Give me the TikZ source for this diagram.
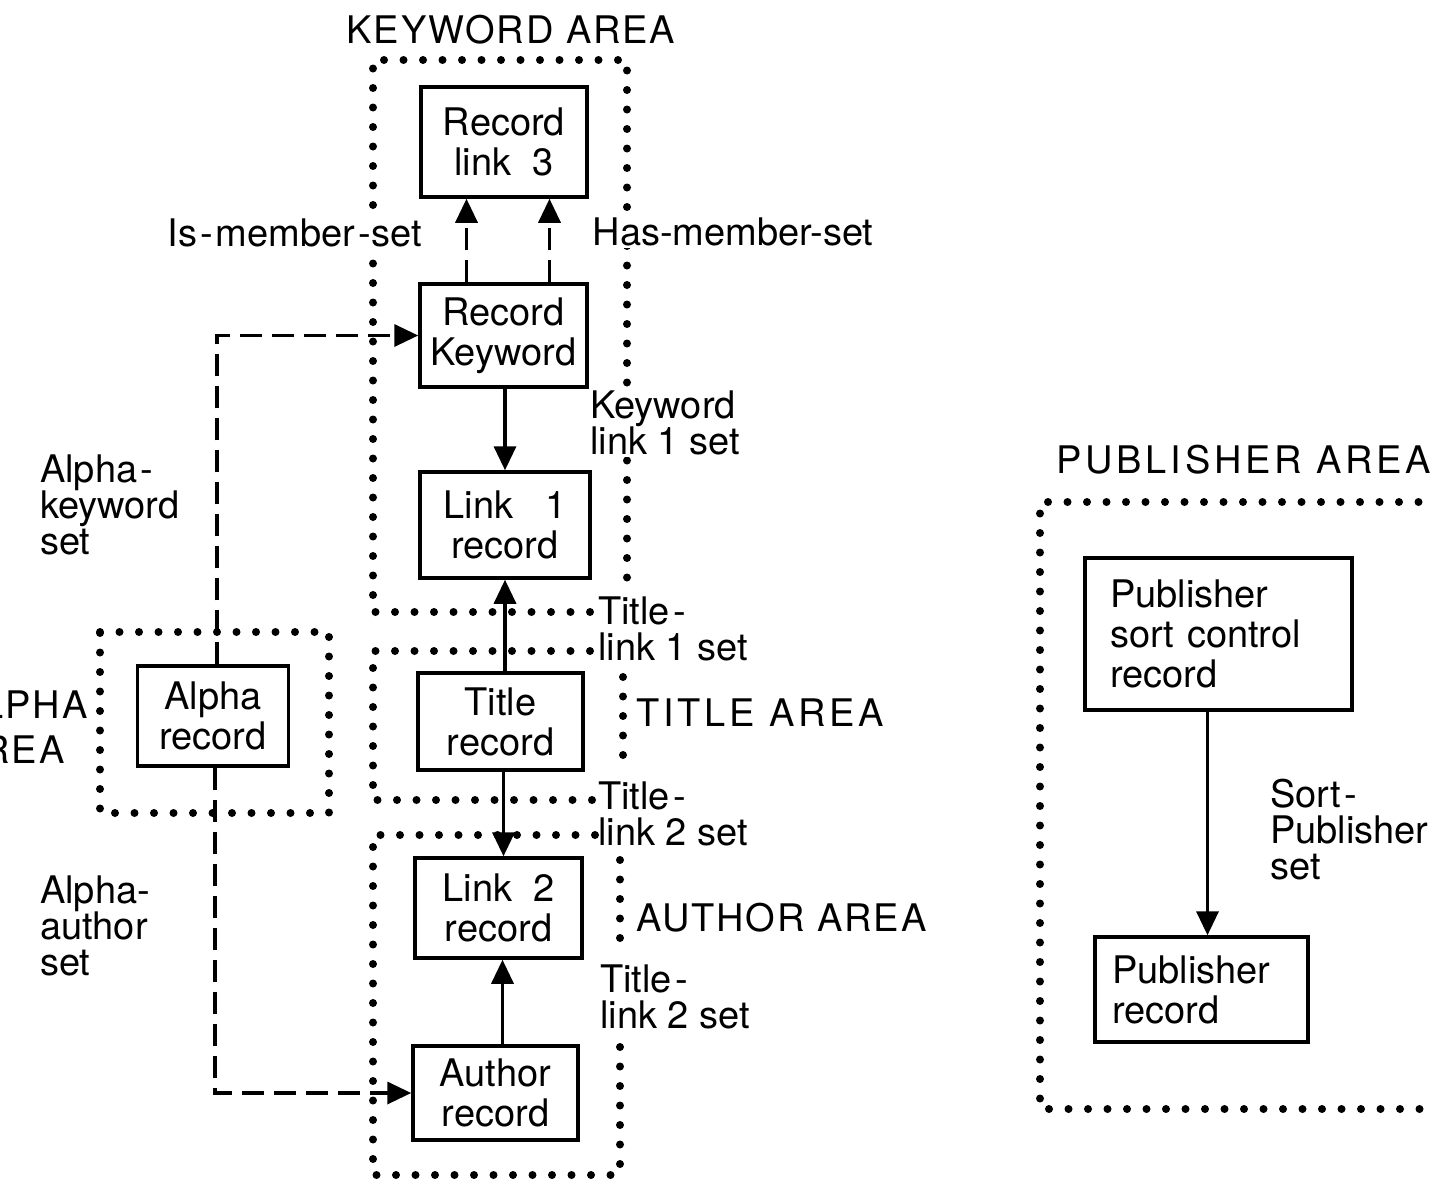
\documentclass[tikz,border=0pt]{standalone}
\usepackage{fontspec}
\setmainfont{TeX Gyre Heros}
\usetikzlibrary{arrows.meta}
\begin{document}
\begin{tikzpicture}[x=1pt,y=-1pt,
  box/.style={draw, line width=3.5pt, align=center, inner sep=0pt, font=\fontsize{38}{40}\selectfont},
  lbl/.style={align=left, inner sep=2pt, font=\fontsize{38}{36}\selectfont},
  area/.style={inner sep=0pt, font=\fontsize{38}{45}\selectfont\addfontfeature{LetterSpace=5}},
  widearea/.style={inner sep=0pt, font=\fontsize{38}{45}\selectfont\addfontfeature{LetterSpace=10}},
  dotline/.style={line width=8pt, line cap=round, dash pattern=on 0pt off 19.5pt},
  solidarrow/.style={line width=3.5pt, -{Triangle[length=24pt,width=22pt]}},
  dasharrow/.style={line width=3.5pt, dash pattern=on 22pt off 10pt, -{Triangle[length=24pt,width=22pt]}},
]
\useasboundingbox (0,0) rectangle (1438,1181);
\fill[white] (0,0) rectangle (1438,1181);
\clip (0,0) rectangle (1431,1181);

% dotted area borders
\draw[dotline] (590,612) -- (373,612) -- (373,60) -- (627,60) -- (627,580);
\draw[dotline] (590,651) -- (373,651) -- (373,800) -- (595,800);
\draw[dotline] (623,677) -- (623,767);
\draw[dotline] (595,835) -- (373,835) -- (373,1175) -- (625,1175);
\draw[dotline] (620,860) -- (620,953);
\draw[dotline] (620,1047) -- (620,1173);
\draw[dotline] (100,632) -- (329,632) -- (329,813) -- (100,813) -- cycle;
\draw[dotline] (1438,502) -- (1040,502) -- (1040,1109) -- (1420,1109);

% records
\node[box, minimum width=166pt, minimum height=110pt] (rl3) at (504,142) {Record\\link\ \ 3};
\node[box, minimum width=167pt, minimum height=103pt] (rk) at (503.5,335.5) {Record\\Keyword};
\node[box, minimum width=170pt, minimum height=106pt] (l1) at (505,525) {Link\ \ \ 1\\record};
\node[box, minimum width=165pt, minimum height=97pt] (tr) at (500.5,721.5) {Title\\record};
\node[box, minimum width=167pt, minimum height=100pt] (l2) at (498.5,908) {Link\ \ 2\\record};
\node[box, minimum width=165pt, minimum height=94pt] (ar) at (495.5,1093) {Author\\record};
\node[box, minimum width=151pt, minimum height=100pt] (al) at (213,716) {Alpha\\record};
\node[box, align=left, text width=217pt, minimum width=267pt, minimum height=152pt] (ps) at (1218.5,634) {Publisher\\sort control\\record};
\node[box, align=left, text width=179pt, minimum width=213pt, minimum height=105pt] (pr) at (1201.5,989.5) {Publisher\\record};

% connectors
\draw[dasharrow] ([xshift=-37pt]rk.north) -- ([xshift=-37pt]rk.north |- rl3.south);
\draw[dasharrow] ([xshift=46pt]rk.north) -- ([xshift=46pt]rk.north |- rl3.south);
\draw[solidarrow] (rk.south -| l1.north) -- (l1.north);
\draw[solidarrow] (tr.north -| l1.south) -- (l1.south);
\draw[solidarrow] ([xshift=3pt]tr.south) -- ([xshift=3pt]tr.south |- l2.north);
\draw[solidarrow] ([xshift=7pt]ar.north) -- ([xshift=7pt]ar.north |- l2.south);
\draw[solidarrow] ([xshift=-11pt]ps.south) -- ([xshift=-11pt]ps.south |- pr.north);
\draw[dasharrow] ([xshift=4pt]al.north) |- (rk.west);
\draw[dasharrow] ([xshift=2pt]al.south) |- (ar.west);

% set labels
\node[lbl, fill=white] (ism) at (295,233) {Is\kern3pt-\kern3pt member\kern3pt-\kern1pt set};
\node[lbl, fill=white] (hsm) at (733,232) {Has-member-set};
\node[lbl, fill=white, anchor=west] (kl1) at (588,423) {Keyword\\link 1 set};
\node[lbl, anchor=west] (alk) at (38,505) {Alpha\kern3pt-\\keyword\\set};
\node[lbl, anchor=west] (tl1) at (596,629) {Title\kern4pt-\\link 1 set};
\node[lbl, anchor=west] (tl2) at (596,814) {Title\kern4pt-\\link 2 set};
\node[lbl, anchor=west] (tl2b) at (598,997) {Title\kern4pt-\\link 2 set};
\node[lbl, anchor=west] (ala) at (38,926) {Alpha-\\author\\set};
\node[lbl, anchor=west] (spl) at (1268,830) {Sort\kern3pt-\\Publisher\\set};

% area labels
\node[area] (kwa) at (511,30) {KEYWORD AREA};
\node[widearea, anchor=west] (tia) at (636,713) {TITLE AREA};
\node[area, anchor=west] (aua) at (636,918) {AUTHOR AREA};
\node[widearea, anchor=west] (pua) at (1056,460) {PUBLISHER AREA};
\node[area, align=left, anchor=west] (ala2) at (-45,727) {ALPHA\\AREA};
\end{tikzpicture}
\end{document}
